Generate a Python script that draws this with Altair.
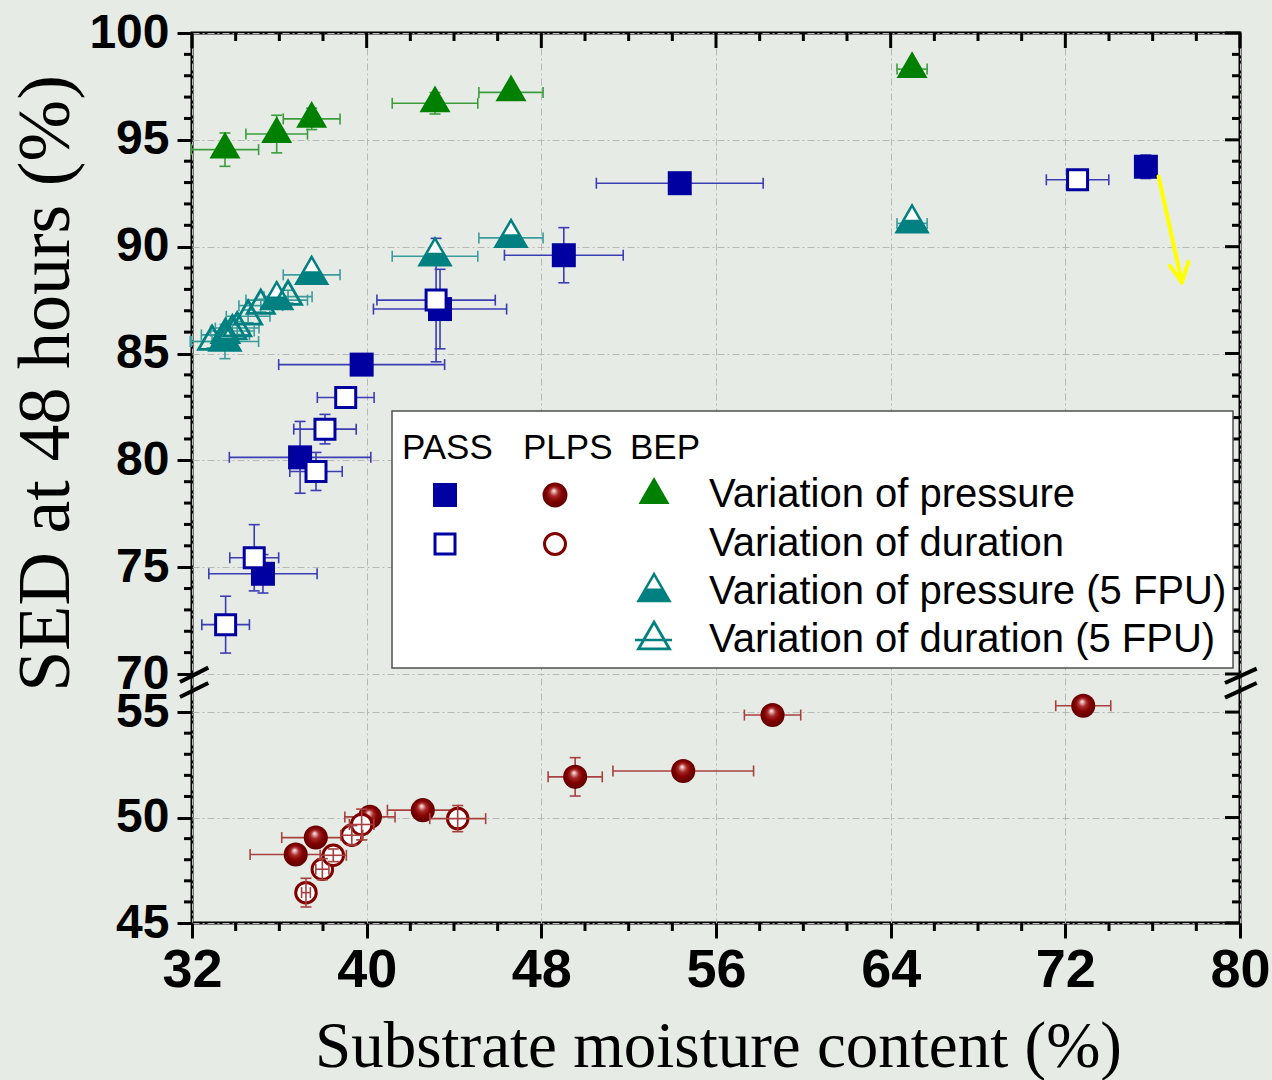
import altair as alt
import pandas as pd

# ---------------- data ----------------
# PASS - variation of pressure (filled squares)
pass_p_x = [54.34, 49.03, 43.36, 39.77, 36.95, 35.25, 75.69]
pass_p_y = [92.97, 89.60, 87.08, 84.48, 80.14, 74.69, 93.74]
pass_p_xe = [3.82, 2.72, 3.05, 3.80, 3.24, 2.48, 0.20]
pass_p_ye = [0.20, 1.29, 1.86, 0.30, 1.68, 0.90, 0.55]

# PASS - variation of duration (open squares)
pass_d_x = [72.56, 43.18, 39.04, 38.09, 37.68, 34.85, 33.54]
pass_d_y = [93.13, 87.50, 82.94, 81.46, 79.48, 75.44, 72.31]
pass_d_xe = [1.43, 2.71, 1.30, 1.43, 1.20, 1.12, 1.09]
pass_d_ye = [0.20, 2.89, 0.30, 0.69, 0.89, 1.55, 1.33]

# PLPS - variation of pressure (filled balls)
plps_p_x = [36.75, 37.67, 40.15, 42.57, 49.55, 54.50, 58.59, 72.82]
plps_p_y = [48.25, 49.05, 50.03, 50.35, 51.93, 52.21, 54.86, 55.30]
plps_p_xe = [2.09, 1.56, 1.15, 1.62, 1.24, 3.22, 1.29, 1.26]
plps_p_ye = [0.20, 0.20, 0.30, 0.20, 0.91, 0.30, 0.20, 0.20]

# PLPS - variation of duration (open circles)
plps_d_x = [37.22, 37.97, 38.47, 39.32, 39.77, 44.17]
plps_d_y = [46.44, 47.55, 48.21, 49.16, 49.67, 49.95]
plps_d_xe = [0.20, 0.30, 0.60, 0.50, 0.56, 1.28]
plps_d_ye = [0.68, 0.50, 0.30, 0.46, 0.73, 0.62]

# BEP - variation of pressure (filled triangles)
bep_p_x = [33.51, 35.88, 37.48, 43.13, 46.61, 64.98]
bep_p_y = [94.54, 95.27, 95.98, 96.71, 97.22, 98.31]
bep_p_xe = [1.54, 1.41, 1.30, 1.96, 1.47, 0.69]
bep_p_ye = [0.78, 0.88, 0.50, 0.50, 0.15, 0.20]

# BEP - variation of pressure, 5 FPU (half-filled triangles)
bep5_p_x = [33.51, 35.88, 37.48, 43.13, 46.61, 64.98]
bep5_p_y = [85.56, 87.50, 88.68, 89.55, 90.41, 91.09]
bep5_p_xe = [1.54, 1.41, 1.30, 1.96, 1.47, 0.69]
bep5_p_ye = [0.80, 0.40, 0.30, 0.40, 0.30, 0.20]

# BEP - variation of duration, 5 FPU (open triangles)
bep5_d_x = [32.92, 33.53, 33.85, 34.07, 34.57, 35.15, 36.40]
bep5_d_y = [85.56, 85.87, 86.05, 86.19, 86.74, 87.24, 87.66]
bep5_d_xe = [1.00, 1.10, 1.00, 1.00, 1.00, 1.00, 1.10]
bep5_d_ye = [0.30, 0.30, 0.30, 0.30, 0.30, 0.30, 0.30]

# yellow arrow annotation (data coordinates)
arrow_x = [76.27, 77.34]
arrow_y = [93.29, 88.33]
arrow_head_x = [76.79, 77.64]
arrow_head_y = [89.10, 89.29]

# axis ticks
x_major = [32, 40, 48, 56, 64, 72, 80]
x_minor = [v for v in range(32, 81, 2) if v not in x_major]
y_major = [45, 50, 55, 70, 75, 80, 85, 90, 95, 100]
y_minor = [v for v in list(range(45, 56)) + list(range(70, 101)) if v not in y_major]

# ---------------- styling ----------------
W, H = 1048, 890
NAVY = "#0000a0"
NAVY_EB = "#3c3cb4"
RED = "#800000"
RED_EB = "#a84040"
GREEN = "#008000"
GREEN_EB = "#3c9c3c"
TEAL = "#008080"
TEAL_EB = "#3c9c9c"
BG = "#e6ece5"

TRI = "M0,-1L-0.866,0.5L0.866,0.5Z"
TRI_BOTTOM = "M-0.462,-0.2L0.462,-0.2L0.866,0.5L-0.866,0.5Z"

ball = alt.RadialGradient(
    gradient="radial",
    stops=[
        alt.GradientStop(color="#ffffff", offset=0.0),
        alt.GradientStop(color="#e0a8a8", offset=0.12),
        alt.GradientStop(color="#a82828", offset=0.32),
        alt.GradientStop(color="#800000", offset=0.6),
        alt.GradientStop(color="#5a0000", offset=1.0),
    ],
    x1=0.45, y1=0.32, r1=0.0, x2=0.5, y2=0.5, r2=0.55,
)

xscale = alt.Scale(domain=[32, 80], nice=False)
yscale = alt.Scale(domain=[45, 56, 70, 100], range=[890, 658, 641, 0], nice=False)

xaxis = alt.Axis(
    values=x_major, title="Substrate moisture content (%)",
    titleFont="Liberation Serif", titleFontSize=65, titleFontWeight="normal",
    titleColor="black", titleX=526, titleY=143, titleAlign="center",
    titleBaseline="alphabetic",
    labelFont="Liberation Sans Narrow, Liberation Sans, Arial", labelFontSize=54,
    labelFontWeight="bold", labelColor="black", labelPadding=5,
    labelFlush=False, labelOverlap=False,
    tickSize=15, tickWidth=3, tickColor="black", domain=False,
    grid=True, gridColor="#b8b8b8", gridDash=[7, 3, 2, 3], gridWidth=1,
)
yaxis = alt.Axis(
    values=y_major, title="SED at 48 hours (%)",
    titleFont="Liberation Serif", titleFontSize=74, titleFontWeight="normal",
    titleColor="black", titleX=-146, titleY=350, titleAlign="center",
    titleBaseline="middle", titleAngle=270,
    labelFont="Liberation Sans", labelFontSize=48, labelFontWeight="bold",
    labelColor="black", labelPadding=8, labelFlush=False, labelOverlap=False,
    tickSize=15, tickWidth=3, tickColor="black", domain=False,
    grid=True, gridColor="#b8b8b8", gridDash=[7, 3, 2, 3], gridWidth=1,
)


def X(f):
    return alt.X(f, type="quantitative", scale=xscale, axis=xaxis)


def Y(f):
    return alt.Y(f, type="quantitative", scale=yscale, axis=yaxis)


def sdf(xs, ys, xe, ye):
    return pd.DataFrame({"x": xs, "y": ys, "xe": xe, "ye": ye})


def errbars(df, color, cap=11, width=1.6):
    base = alt.Chart(df).transform_calculate(
        xlo="datum.x - datum.xe", xhi="datum.x + datum.xe",
        ylo="datum.y - datum.ye", yhi="datum.y + datum.ye")
    return [
        base.mark_rule(color=color, strokeWidth=width).encode(x=X("xlo"), x2="xhi", y=Y("y")),
        base.mark_rule(color=color, strokeWidth=width).encode(x=X("x"), y=Y("ylo"), y2="yhi"),
        base.mark_tick(orient="vertical", size=cap, thickness=width, color=color, opacity=1).encode(x=X("xlo"), y=Y("y")),
        base.mark_tick(orient="vertical", size=cap, thickness=width, color=color, opacity=1).encode(x=X("xhi"), y=Y("y")),
        base.mark_tick(orient="horizontal", size=cap, thickness=width, color=color, opacity=1).encode(x=X("x"), y=Y("ylo")),
        base.mark_tick(orient="horizontal", size=cap, thickness=width, color=color, opacity=1).encode(x=X("x"), y=Y("yhi")),
    ]


df_pass_p = sdf(pass_p_x, pass_p_y, pass_p_xe, pass_p_ye)
df_pass_d = sdf(pass_d_x, pass_d_y, pass_d_xe, pass_d_ye)
df_plps_p = sdf(plps_p_x, plps_p_y, plps_p_xe, plps_p_ye)
df_plps_d = sdf(plps_d_x, plps_d_y, plps_d_xe, plps_d_ye)
df_bep_p = sdf(bep_p_x, bep_p_y, bep_p_xe, bep_p_ye)
df_bep5_p = sdf(bep5_p_x, bep5_p_y, bep5_p_xe, bep5_p_ye)
df_bep5_d = sdf(bep5_d_x, bep5_d_y, bep5_d_xe, bep5_d_ye)

layers = []

# extra ticks: minor (outward) on left/bottom, inward on top/right
df_xmaj = pd.DataFrame({"v": x_major})
df_xmin = pd.DataFrame({"v": x_minor})
df_ymaj = pd.DataFrame({"v": y_major})
df_ymin = pd.DataFrame({"v": y_minor})
tk = dict(color="black", strokeWidth=3)
layers += [
    alt.Chart(df_xmin).mark_rule(**tk).encode(x=X("v"), y=alt.value(H), y2=alt.value(H + 8)),
    alt.Chart(df_xmaj).mark_rule(**tk).encode(x=X("v"), y=alt.value(0), y2=alt.value(15)),
    alt.Chart(df_xmin).mark_rule(**tk).encode(x=X("v"), y=alt.value(0), y2=alt.value(8)),
    alt.Chart(df_ymin).mark_rule(**tk).encode(y=Y("v"), x=alt.value(-8), x2=alt.value(0)),
    alt.Chart(df_ymaj).mark_rule(**tk).encode(y=Y("v"), x=alt.value(W - 15), x2=alt.value(W)),
    alt.Chart(df_ymin).mark_rule(**tk).encode(y=Y("v"), x=alt.value(W - 8), x2=alt.value(W)),
]

# error bars under filled / white symbols
layers += errbars(df_bep_p, GREEN_EB)
layers += errbars(df_bep5_p, TEAL_EB)
layers += errbars(df_bep5_d, TEAL_EB)
layers += errbars(df_pass_p, NAVY_EB)
layers += errbars(df_pass_d, NAVY_EB)
layers += errbars(df_plps_p, RED_EB)

# symbols
layers += [
    alt.Chart(df_bep_p).mark_point(shape=TRI, size=1281, filled=True, fill=GREEN, strokeWidth=0, opacity=1).encode(x=X("x"), y=Y("y")),
    alt.Chart(df_bep5_p).mark_point(shape=TRI, size=1281, filled=True, fill="white", stroke=TEAL, strokeWidth=2.5, opacity=1).encode(x=X("x"), y=Y("y")),
    alt.Chart(df_bep5_p).mark_point(shape=TRI_BOTTOM, size=1281, filled=True, fill=TEAL, strokeWidth=0, opacity=1).encode(x=X("x"), y=Y("y")),
    alt.Chart(df_bep5_d).mark_point(shape=TRI, size=973, filled=False, stroke=TEAL, strokeWidth=2.8, opacity=1).encode(x=X("x"), y=Y("y")),
    alt.Chart(df_pass_p).mark_point(shape="square", size=576, filled=True, fill=NAVY, strokeWidth=0, opacity=1).encode(x=X("x"), y=Y("y")),
    alt.Chart(df_pass_d).mark_point(shape="square", size=400, filled=True, fill="white", stroke=NAVY, strokeWidth=3, opacity=1).encode(x=X("x"), y=Y("y")),
    alt.Chart(df_plps_p).mark_point(shape="circle", size=580, filled=True, fill=ball, strokeWidth=0, opacity=1).encode(x=X("x"), y=Y("y")),
    alt.Chart(df_plps_d).mark_point(shape="circle", size=420, filled=True, fill="white", stroke=RED, strokeWidth=3, opacity=1).encode(x=X("x"), y=Y("y")),
]
# open-circle error bars drawn over their symbols
layers += errbars(df_plps_d, RED_EB)

# yellow arrow
df_arrow = pd.DataFrame({"x": [arrow_x[0], arrow_head_x[0], arrow_head_x[1]],
                         "y": [arrow_y[0], arrow_head_y[0], arrow_head_y[1]],
                         "x2": [arrow_x[1]] * 3, "y2": [arrow_y[1]] * 3})
layers.append(alt.Chart(df_arrow).mark_rule(color="#ffff00", strokeWidth=4, strokeCap="round").encode(
    x=X("x"), y=Y("y"), x2="x2", y2="y2"))

# legend box (decoration, pixel positions)
one = pd.DataFrame({"a": [0]})
layers.append(alt.Chart(one).mark_rect(fill="white", stroke="#505050", strokeWidth=1.5, opacity=1).encode(
    x=alt.value(200), x2=alt.value(1041), y=alt.value(378), y2=alt.value(635)))
LF = "Liberation Sans"
for txt, px in [("PASS", 210), ("PLPS", 331), ("BEP", 438)]:
    layers.append(alt.Chart(one).mark_text(text=txt, font=LF, fontSize=35, align="left",
                                           baseline="alphabetic", color="black").encode(
        x=alt.value(px), y=alt.value(426)))
for txt, py in [("Variation of pressure", 474), ("Variation of duration", 523),
                ("Variation of pressure (5 FPU)", 571), ("Variation of duration (5 FPU)", 619)]:
    layers.append(alt.Chart(one).mark_text(text=txt, font=LF, fontSize=40, align="left",
                                           baseline="alphabetic", color="black").encode(
        x=alt.value(517), y=alt.value(py)))
layers += [
    alt.Chart(one).mark_point(shape="square", size=576, filled=True, fill=NAVY, strokeWidth=0, opacity=1).encode(x=alt.value(253), y=alt.value(462)),
    alt.Chart(one).mark_point(shape="square", size=400, filled=True, fill="white", stroke=NAVY, strokeWidth=3, opacity=1).encode(x=alt.value(253), y=alt.value(511)),
    alt.Chart(one).mark_point(shape="circle", size=620, filled=True, fill=ball, strokeWidth=0, opacity=1).encode(x=alt.value(363), y=alt.value(462)),
    alt.Chart(one).mark_point(shape="circle", size=440, filled=True, fill="white", stroke=RED, strokeWidth=3, opacity=1).encode(x=alt.value(363), y=alt.value(511)),
    alt.Chart(one).mark_point(shape=TRI, size=1281, filled=True, fill=GREEN, strokeWidth=0, opacity=1).encode(x=alt.value(462), y=alt.value(462)),
    alt.Chart(one).mark_point(shape=TRI, size=1281, filled=True, fill="white", stroke=TEAL, strokeWidth=2.5, opacity=1).encode(x=alt.value(462), y=alt.value(559)),
    alt.Chart(one).mark_point(shape=TRI_BOTTOM, size=1281, filled=True, fill=TEAL, strokeWidth=0, opacity=1).encode(x=alt.value(462), y=alt.value(559)),
    alt.Chart(one).mark_point(shape=TRI, size=1281, filled=False, stroke=TEAL, strokeWidth=2.8, opacity=1).encode(x=alt.value(462), y=alt.value(607)),
    alt.Chart(one).mark_rule(color=TEAL, strokeWidth=2.5).encode(x=alt.value(443), x2=alt.value(480), y=alt.value(607)),
]

# axis break marks
df_break = pd.DataFrame({
    "x1": [-12, -12, 1033, 1033], "y1": [649, 664, 650, 664.6],
    "x2": [16.3, 16.3, 1064.7, 1064.7], "y2": [634.6, 650, 635.6, 650],
})
for i in range(4):
    r = df_break.iloc[i]
    layers.append(alt.Chart(one).mark_rule(color="black", strokeWidth=4).encode(
        x=alt.value(float(r.x1)), y=alt.value(float(r.y1)),
        x2=alt.value(float(r.x2)), y2=alt.value(float(r.y2))))

chart = alt.layer(*layers).properties(
    width=W, height=H,
    padding={"left": 192, "top": 33, "right": 32, "bottom": 157},
    autosize=alt.AutoSizeParams(type="none"),
    background=BG,
).configure_view(stroke="black", strokeWidth=3)

chart.save("out.html", embed_options={"renderer": "svg", "actions": False})
